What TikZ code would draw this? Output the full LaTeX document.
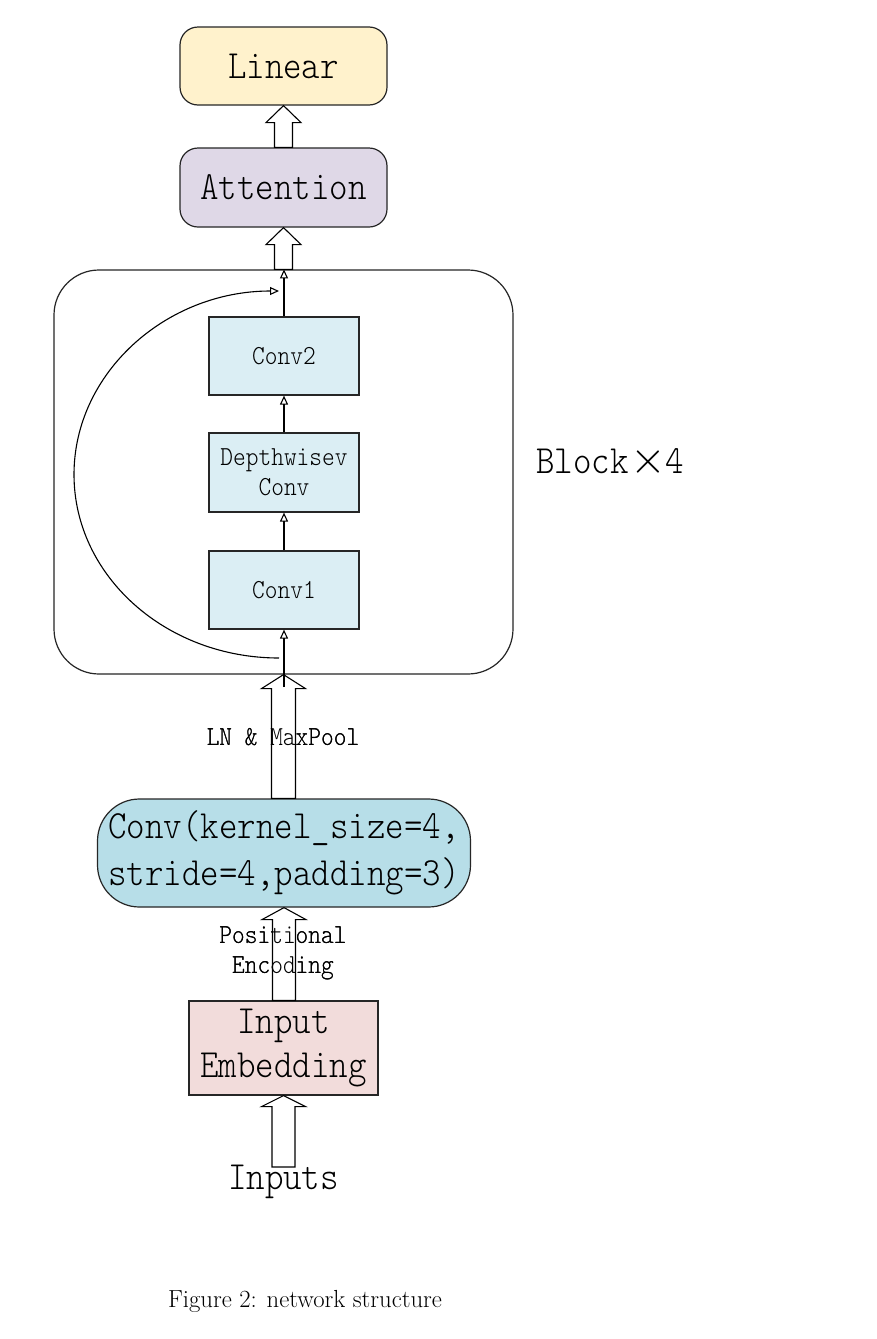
\RequirePackage{fix-cm}
\documentclass[tikz,border=0pt]{standalone}
\usepackage{fontspec}
\newfontfamily\monolt[FakeStretch=0.88]{lmmonolt10-regular.otf}
\usetikzlibrary{arrows.meta,calc}
\definecolor{linc}{RGB}{255,242,204}
\definecolor{attc}{RGB}{223,216,231}
\definecolor{innc}{RGB}{219,238,244}
\definecolor{convc}{RGB}{183,222,232}
\definecolor{embc}{RGB}{242,220,219}
\newcommand{\fatarrow}[5]{%
  \path[fat] let \p1=(#1), \p2=(#2) in
    (\x2,\y2) -- (\x2+#4,\y2-#5) -- (\x2+#3,\y2-#5) -- (\x2+#3,\y1)
    -- (\x2-#3,\y1) -- (\x2-#3,\y2-#5) -- (\x2-#4,\y2-#5) -- cycle;}
\begin{document}
\begin{tikzpicture}[x=1pt,y=-1pt,
  box/.style={draw=black!85,line width=1.2pt,inner sep=0pt,align=center,text=black},
  bigfont/.style={font=\fontsize{40}{47}\selectfont\monolt},
  smallfont/.style={font=\fontsize{27.5}{30}\selectfont\monolt},
  fat/.style={draw=black,line width=1.1pt,fill=white,line join=miter},
  flow/.style={draw=black,line width=1.1pt,-{Triangle[open,length=9pt,width=8pt]}}]
\useasboundingbox[fill=white] (0,0) rectangle (876,1339);
% nodes
\node[box,bigfont,fill=linc,rounded corners=18pt,minimum width=207pt,minimum height=78pt] (lin) at (283.5,66) {Linear};
\node[box,bigfont,fill=attc,rounded corners=18pt,minimum width=207pt,minimum height=79pt] (att) at (283.5,187.5) {Attention};
\node[draw=black!85,line width=1.2pt,rounded corners=45pt,minimum width=459pt,minimum height=404pt,inner sep=0pt] (blk) at (283.5,472) {};
\node[box,smallfont,fill=innc,minimum width=150pt,minimum height=78pt] (c2) at (284,356) {Conv2};
\node[box,smallfont,fill=innc,minimum width=150pt,minimum height=79pt] (dw) at (284,472.5) {Depthwisev\\Conv};
\node[box,smallfont,fill=innc,minimum width=150pt,minimum height=78pt] (c1) at (284,590) {Conv1};
\node[box,bigfont,fill=convc,rounded corners=42pt,minimum width=373pt,minimum height=108pt] (cv) at (284,853) {Conv(kernel\_size=4,\\stride=4,padding=3)};
\node[box,font=\fontsize{40}{44}\selectfont\monolt,fill=embc,minimum width=189pt,minimum height=94pt] (emb) at (283.5,1048) {Input\\Embedding};
\node[bigfont,inner sep=0pt] (inp) at (283.5,1182) {Inputs};
\node[bigfont,inner sep=0pt,anchor=west] (bk4) at (536,462) {Block\kern1.5pt{\fontsize{46}{46}\selectfont$\times$}\kern0pt 4};
\node[smallfont,inner sep=0pt] (lnm) at (283,737) {LN \& MaxPool};
\node[smallfont,inner sep=0pt,align=center] (pe) at (283,953) {Positional\\Encoding};
\node[font=\fontsize{24.7}{29}\selectfont\rmfamily,inner sep=0pt] (cap) at (305,1301) {Figure 2: network structure};
% coordinates
\coordinate (inbot) at (283.5,1167);
\coordinate (c1in) at (284,687);
\coordinate (skA) at (279,658);
% fat arrows
\fatarrow{att.north}{lin.south}{9pt}{17.5pt}{17pt}
\fatarrow{blk.north}{att.south}{9pt}{17.5pt}{17pt}
\fatarrow{cv.north}{blk.south}{12pt}{22pt}{14pt}
\fatarrow{emb.north}{cv.south}{11.5pt}{22pt}{12pt}
\fatarrow{inbot}{emb.south}{11.5pt}{22pt}{11pt}
% thin arrows
\draw[flow] (c1in) -- (c1.south);
\draw[flow] (c1.north) -- (dw.south);
\draw[flow] (dw.north) -- (c2.south);
\draw[flow] (c2.north) -- (c2.north |- blk.north);
\draw[flow] (skA) arc[start angle=270,end angle=90,x radius=205pt,y radius=183.5pt];
% labels drawn over the arrows
\node[smallfont,inner sep=0pt] at (lnm) {LN \& MaxPool};
\node[smallfont,inner sep=0pt,align=center] at (pe) {Positional\\Encoding};
\end{tikzpicture}
\end{document}
